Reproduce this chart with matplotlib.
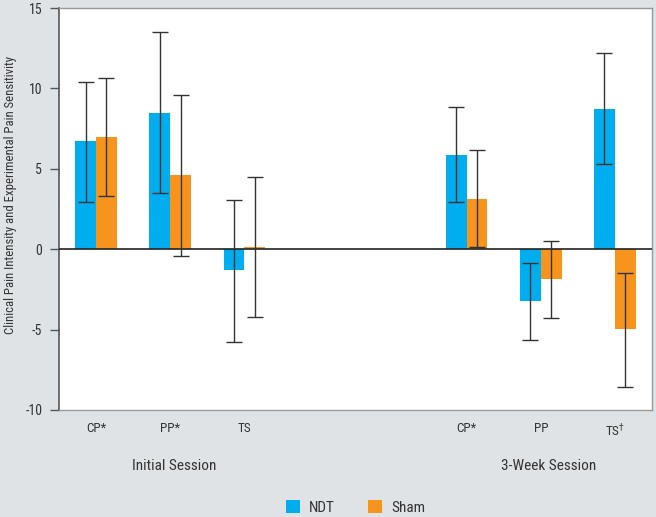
import matplotlib
matplotlib.use("Agg")
import matplotlib.pyplot as plt
import matplotlib.transforms as mtransforms
from matplotlib.patches import Patch

plt.rcParams["font.family"] = ["Roboto Condensed", "DejaVu Sans"]

categories = ["CP*", "PP*", "TS", "CP*", "PP", "TS$^{\\dagger}$"]
positions = [0, 1, 2, 5, 6, 7]
sessions = ["Initial Session", "3-Week Session"]

ndt_mean = [6.7, 8.5, -1.3, 5.85, -3.2, 8.75]
ndt_low = [2.95, 3.5, -5.75, 2.95, -5.65, 5.3]
ndt_high = [10.4, 13.5, 3.05, 8.85, -0.85, 12.2]

sham_mean = [7.0, 4.6, 0.12, 3.15, -1.85, -4.95]
sham_low = [3.3, -0.4, -4.2, 0.15, -4.3, -8.55]
sham_high = [10.65, 9.6, 4.5, 6.15, 0.5, -1.5]

ndt_color = "#00AEEF"
sham_color = "#F7941D"
bg = "#DFE3E6"

fig = plt.figure(figsize=(6.56, 5.17), dpi=100, facecolor=bg)
ax = fig.add_axes([0.0899, 0.207, 0.9039, 0.7775])
ax.set_facecolor("white")

w = 0.28
ndt_x = [p - w / 2 for p in positions]
sham_x = [p + w / 2 for p in positions]

ax.bar(ndt_x, ndt_mean, width=w, color=ndt_color, zorder=2)
ax.bar(sham_x, sham_mean, width=w, color=sham_color, zorder=2)

ndt_err = [[m - lo for m, lo in zip(ndt_mean, ndt_low)],
           [hi - m for m, hi in zip(ndt_mean, ndt_high)]]
sham_err = [[m - lo for m, lo in zip(sham_mean, sham_low)],
            [hi - m for m, hi in zip(sham_mean, sham_high)]]
ax.errorbar(ndt_x, ndt_mean, yerr=ndt_err, fmt="none", ecolor="#333333",
            elinewidth=1, capsize=5.5, capthick=1, zorder=4)
ax.errorbar(sham_x, sham_mean, yerr=sham_err, fmt="none", ecolor="#333333",
            elinewidth=1, capsize=5.5, capthick=1, zorder=4)

ax.axhline(0, color="#222222", linewidth=1.2, zorder=3)

ax.set_xlim(-0.5, 7.5)
ax.set_ylim(-10, 15)
ax.set_yticks([-10, -5, 0, 5, 10, 15])
ax.set_yticklabels(["-10", "-5", "0", "5", "10", "15"])
ax.set_xticks(positions)
ax.set_xticklabels(categories)
ax.tick_params(axis="x", length=0, pad=9, labelsize=9.5, colors="#333333")
ax.tick_params(axis="y", length=6.5, width=1, color="#555555", pad=5.5,
               labelsize=10, labelcolor="#333333")

for side in ["top", "right", "bottom"]:
    ax.spines[side].set_color("#999999")
    ax.spines[side].set_linewidth(1)
ax.spines["left"].set_color("#555555")
ax.spines["left"].set_linewidth(1.2)

ax.set_ylabel("Clinical Pain Intensity and Experimental Pain Sensitivity",
              fontsize=9.2, color="#333333")
ax.yaxis.set_label_coords(-0.071, 0.535)

trans = mtransforms.blended_transform_factory(ax.transData, fig.transFigure)
ax.text(1.05, 1 - 466 / 517, sessions[0], transform=trans, ha="center",
        va="center", fontsize=11, color="#333333")
ax.text(6.1, 1 - 466 / 517, sessions[1], transform=trans, ha="center",
        va="center", fontsize=11, color="#333333")

handles = [Patch(facecolor=ndt_color, label="NDT"),
           Patch(facecolor=sham_color, label="Sham")]
fig.legend(handles=handles, loc="center", bbox_to_anchor=(0.542, 0.018),
           ncol=2, frameon=False, fontsize=11, handlelength=0.9,
           handleheight=0.9, columnspacing=2.2, handletextpad=0.6,
           labelcolor="#333333")

fig.savefig("out.png", dpi=100, facecolor=bg)
